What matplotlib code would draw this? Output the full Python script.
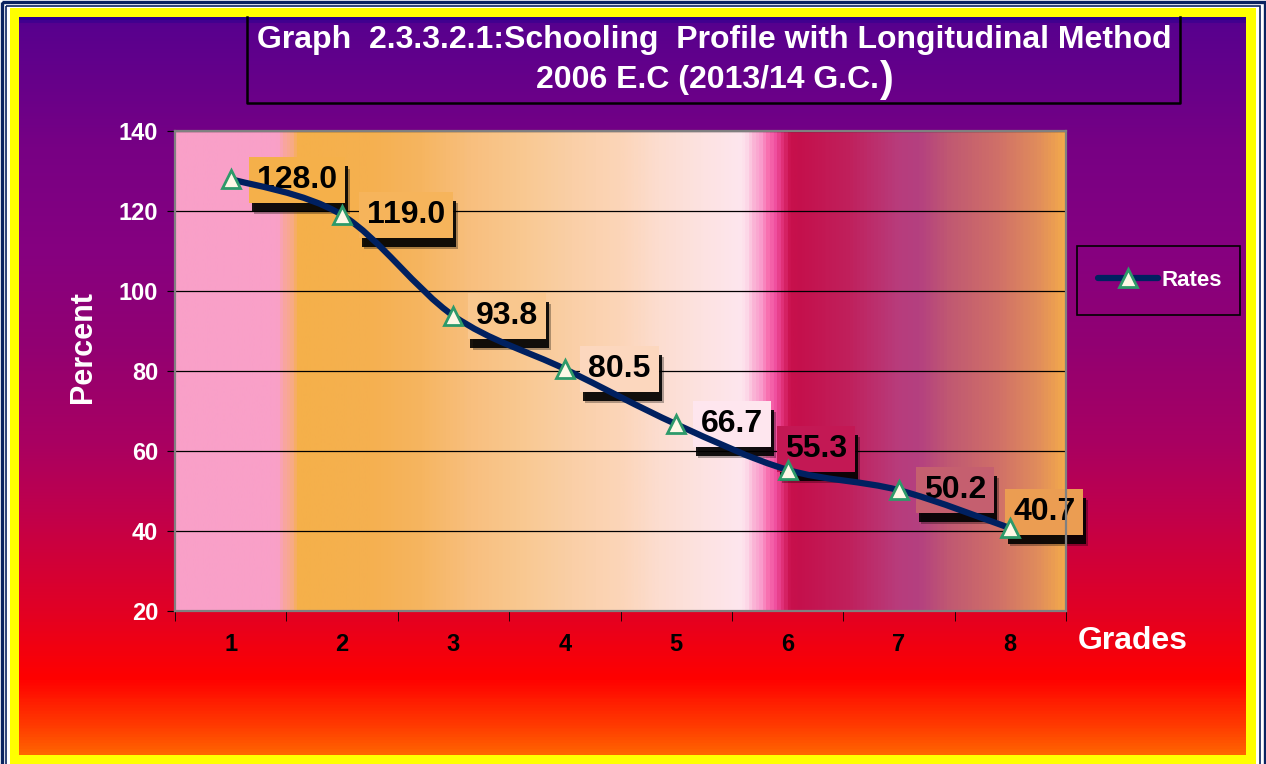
import numpy as np
import matplotlib
matplotlib.use('Agg')
import matplotlib.pyplot as plt
from matplotlib.colors import LinearSegmentedColormap
from matplotlib.patches import Rectangle, PathPatch
from matplotlib.path import Path
from matplotlib.lines import Line2D
import matplotlib.patheffects as pe

# data
grades = [1, 2, 3, 4, 5, 6, 7, 8]
rates = [128.0, 119.0, 93.8, 80.5, 66.7, 55.3, 50.2, 40.7]
yticks = [20, 40, 60, 80, 100, 120, 140]
title1 = "Graph  2.3.3.2.1:Schooling  Profile with Longitudinal Method"
title2 = "2006 E.C (2013/14 G.C."
series_name = "Rates"

plt.rcParams['font.family'] = ['Liberation Sans', 'DejaVu Sans']
plt.rcParams['font.weight'] = 'bold'

W, H = 1266, 764
fig = plt.figure(figsize=(W / 100, H / 100), dpi=100)
fig.patch.set_facecolor('white')

# background layer in pixel coords
bg = fig.add_axes([0, 0, 1, 1])
bg.set_xlim(0, W)
bg.set_ylim(H, 0)
bg.axis('off')

navy = '#0a2360'
bg.add_patch(Rectangle((1.5, 1.5), W - 3, H + 10, fill=False, ec=navy, lw=2.4))
bg.add_patch(Rectangle((6, 6), W - 12, H + 10, fill=False, ec=navy, lw=1.2))
bg.add_patch(Rectangle((10, 8), W - 20, H, fc='#ffff00', ec='none'))

vstops = [(17, '#2a0090'), (23, '#58008e'), (150, '#780084'), (250, '#860080'),
          (345, '#920072'), (440, '#a80062'), (512, '#c0004c'), (608, '#e00026'),
          (680, '#ff0000'), (727, '#ff3a00'), (755, '#ff6400')]
vcmap = LinearSegmentedColormap.from_list(
    'vbg', [((y - 17) / (755 - 17), c) for y, c in vstops])
bg.imshow(np.linspace(0, 1, 500).reshape(-1, 1), cmap=vcmap, aspect='auto',
          extent=(19, 1246, 755, 17), zorder=1)
bg.set_xlim(0, W)
bg.set_ylim(H, 0)

# title box (top edge hidden)
bg.plot([247, 247, 1180, 1180], [17, 103, 103, 17], color='black', lw=1.8, zorder=2)
bg.text(714, 40, title1, ha='center', va='center', color='white', fontsize=23, zorder=3)
t2 = bg.text(707, 80, title2, ha='center', va='center', color='white', fontsize=23, zorder=3)
bg.annotate(')', xy=(1, 0.5), xycoords=t2, xytext=(1, 0), textcoords='offset points',
            ha='left', va='center', color='white', fontsize=30, zorder=3)

# plot area gradient
pstops = [(175, '#f9a0c8'), (276, '#f9a0c8'), (283, '#f9a5a0'), (290, '#f8aa88'),
          (297, '#f5b04a'), (370, '#f5b050'), (420, '#f6b560'), (470, '#f8bf7e'),
          (520, '#f9c890'), (570, '#facfa6'), (620, '#fcd5b8'), (660, '#fcddd0'),
          (700, '#fde2e0'), (742, '#fee6ee'), (748, '#fdd8e8'), (755, '#fbb4d6'),
          (762, '#fa9ccc'), (769, '#f870b0'), (776, '#f050a0'), (783, '#e03078'),
          (791, '#c8104c'), (800, '#c5104c'), (850, '#c0205c'), (900, '#b83c7c'),
          (920, '#b44080'), (950, '#c05872'), (1000, '#d07068'), (1040, '#e08c5c'),
          (1066, '#f2a84c')]
pcmap = LinearSegmentedColormap.from_list(
    'pbg', [((x - 175) / 891, c) for x, c in pstops])

ax = fig.add_axes([175 / W, 1 - 611 / H, 891 / W, 480 / H])
ax.set_facecolor('none')
ax.imshow(np.linspace(0, 1, 900).reshape(1, -1), cmap=pcmap, aspect='auto',
          extent=(0.5, len(grades) + 0.5, 20, 140), zorder=0)
ax.set_xlim(0.5, len(grades) + 0.5)
ax.set_ylim(20, 140)

ax.set_yticks(yticks)
ax.yaxis.grid(True, color='black', lw=0.9)
ax.set_axisbelow(True)
ax.tick_params(axis='y', direction='out', length=6, color='black',
               labelcolor='white', labelsize=17, pad=6)
ax.set_xticks(grades)
ax.set_xticks(np.arange(0.5, len(grades) + 1), minor=True)
ax.tick_params(axis='x', which='major', length=0, labelcolor='black',
               labelsize=17, pad=16)
ax.tick_params(axis='x', which='minor', direction='out', length=7, color='black')
for s in ax.spines.values():
    s.set_color('#808080')
    s.set_linewidth(1.6)

# smoothed line (Excel style)
pts = np.column_stack([grades, rates]).astype(float)
verts = [pts[0]]
codes = [Path.MOVETO]
for i in range(len(pts) - 1):
    p0 = pts[i - 1] if i > 0 else pts[i]
    p1, p2 = pts[i], pts[i + 1]
    p3 = pts[i + 2] if i + 2 < len(pts) else pts[i + 1]
    verts += [p1 + (p2 - p0) / 6, p2 - (p3 - p1) / 6, p2]
    codes += [Path.CURVE4] * 3
line_col = '#002060'
ax.add_patch(PathPatch(Path(verts, codes), fill=False, ec=line_col, lw=4.5,
                       capstyle='round', joinstyle='round', zorder=3))
mk = dict(marker='^', ms=13, mfc='#fff8e6', mec='#2e9a6a', mew=2)
ax.plot(grades, rates, ls='none', zorder=4, **mk)

# data labels with shadowed boxes
offsets = [(19, -1), (18, 0), (16, 0), (17, 0), (18, 0), (-2, 15), (18, 0), (2, 12)]
for g, v, (dx, dy) in zip(grades, rates, offsets):
    frac = ((g - 0.5) * 891 / len(grades) + dx / 0.72 + 40) / 891
    t = ax.annotate(f"{v:.1f}", xy=(g, v), xytext=(dx, dy), textcoords='offset points',
                    ha='left', va='center', fontsize=23, color='black', zorder=2.5,
                    bbox=dict(boxstyle='square,pad=0.25', fc=pcmap(min(frac, 1)), ec='none'))
    t.get_bbox_patch().set_path_effects([
        pe.SimplePatchShadow(offset=(3.5, -8), shadow_rgbFace='black', alpha=0.3),
        pe.SimplePatchShadow(offset=(2, -6.5), shadow_rgbFace='black', alpha=0.9),
        pe.Normal()])

# axis titles
fig.text(1078 / W, 1 - 641 / H, "Grades", ha='left', va='center', color='white', fontsize=23)
fig.text(83 / W, 1 - 347 / H, "Percent", ha='center', va='center', rotation=90,
         color='white', fontsize=22)

# legend
bg.add_patch(Rectangle((1077, 246), 163, 69, fill=False, ec='black', lw=1.2, zorder=2))
handle = Line2D([], [], color=line_col, lw=4.5, solid_capstyle='round', **mk)
fig.legend(handles=[handle], labels=[series_name], loc='center',
           bbox_to_anchor=(1160 / W, 1 - 280 / H), frameon=False, handlelength=2.7,
           handletextpad=0.15, labelcolor='white', prop={'weight': 'bold', 'size': 16})

fig.savefig('out.png', dpi=100)
